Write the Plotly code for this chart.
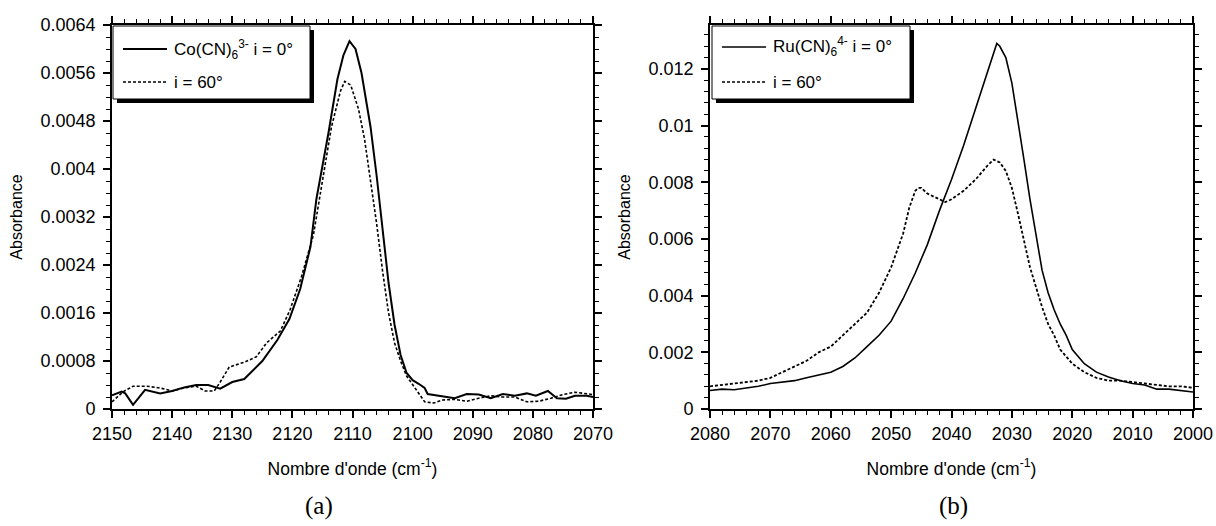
import plotly.graph_objects as go

# ---- Co(CN)6 3- spectra (panel a) ----
co_wn_0 = [2150, 2148.4, 2147.8, 2146.5, 2144.5, 2142, 2140, 2138, 2136, 2134, 2132, 2130,
           2128, 2126, 2125, 2122.5, 2120.5, 2118.7, 2117, 2116, 2114, 2112.5, 2111.5,
           2110.5, 2109.5, 2108.5, 2107, 2106, 2105, 2104, 2103, 2102, 2101, 2100, 2099,
           2098, 2097.5, 2095, 2093, 2091, 2089, 2087, 2085, 2083, 2081, 2079.5, 2077.5,
           2076, 2074.5, 2073, 2071, 2070]
co_abs_0 = [0.00023, 0.00029, 0.00026, 0.00007, 0.00032, 0.00026, 0.0003, 0.00036, 0.0004,
            0.0004, 0.00034, 0.00045, 0.0005, 0.0007, 0.0008, 0.00115, 0.0015, 0.002,
            0.0027, 0.0035, 0.0046, 0.0055, 0.0059, 0.00613, 0.006, 0.0056, 0.0047,
            0.0039, 0.003, 0.0021, 0.0014, 0.0009, 0.0006, 0.00048, 0.00042, 0.00035,
            0.00025, 0.00021, 0.00018, 0.00025, 0.00024, 0.00018, 0.00025, 0.00022,
            0.00026, 0.00022, 0.0003, 0.00018, 0.00017, 0.00022, 0.00022, 0.0002]

co_wn_60 = [2150, 2148.1, 2146.5, 2144.2, 2142, 2140, 2138, 2136, 2134.5, 2133, 2132,
            2130.5, 2128, 2126, 2124.3, 2122, 2120.4, 2118.5, 2116.5, 2115, 2113.5, 2112,
            2111.3, 2110.3, 2109, 2108, 2107, 2106, 2105, 2104, 2103, 2102, 2101, 2100,
            2099, 2098, 2096.5, 2095, 2093, 2091, 2089, 2087, 2085, 2083, 2081, 2079,
            2077, 2075, 2073, 2071, 2070]
co_abs_60 = [0.00012, 0.00029, 0.00038, 0.00038, 0.00035, 0.0003, 0.00035, 0.00038, 0.0003,
             0.0003, 0.00045, 0.0007, 0.00078, 0.00087, 0.0011, 0.0013, 0.00165, 0.0022,
             0.0029, 0.0038, 0.0047, 0.0053, 0.00546, 0.0054, 0.005, 0.0045, 0.0038,
             0.0031, 0.0023, 0.0016, 0.0011, 0.0008, 0.00055, 0.0004, 0.00025, 0.00012,
             0.0001, 0.00015, 0.00016, 0.00013, 0.00018, 0.00022, 0.0002, 0.0002,
             0.00012, 0.00013, 0.00018, 0.00024, 0.00028, 0.00026, 0.00024]

# ---- Ru(CN)6 4- spectra (panel b) ----
ru_wn_0 = [2080, 2078, 2076, 2074, 2072, 2070, 2068, 2066, 2064, 2062, 2060, 2058, 2056,
           2054, 2052, 2050, 2048, 2046, 2044, 2042, 2040, 2038, 2036, 2034, 2033, 2032.5,
           2032, 2031, 2030, 2029, 2028, 2027, 2026, 2025, 2024, 2023, 2022, 2021, 2020,
           2018, 2016, 2014, 2012, 2010, 2008, 2006, 2004, 2002, 2000]
ru_abs_0 = [0.00065, 0.0007, 0.00068, 0.00075, 0.0008, 0.0009, 0.00095, 0.001, 0.0011,
            0.0012, 0.0013, 0.0015, 0.0018, 0.0022, 0.0026, 0.0031, 0.0039, 0.0048,
            0.0058, 0.007, 0.0081, 0.0093, 0.0106, 0.0119, 0.0126, 0.0129, 0.0128,
            0.0124, 0.0115, 0.0102, 0.0088, 0.0074, 0.0062, 0.0049, 0.0041, 0.0035,
            0.003, 0.0026, 0.0021, 0.0016, 0.0013, 0.00113, 0.001, 0.0009, 0.00085,
            0.0007, 0.0007, 0.00065, 0.0006]

ru_wn_60 = [2080, 2078, 2076, 2074, 2072, 2070, 2068, 2066, 2064, 2062, 2060, 2058, 2056,
            2054, 2052, 2050, 2048, 2047, 2046, 2045.5, 2045, 2044, 2042, 2041, 2040, 2038,
            2036, 2034, 2033, 2032, 2031, 2030, 2029, 2028, 2027, 2026, 2025, 2024, 2023,
            2022, 2020, 2018, 2016, 2014, 2012, 2010, 2008, 2006, 2004, 2002, 2000]
ru_abs_60 = [0.0008, 0.00085, 0.0009, 0.00095, 0.001, 0.0011, 0.0013, 0.0015, 0.0017,
             0.002, 0.0022, 0.0026, 0.003, 0.0034, 0.0041, 0.005, 0.0062, 0.0071, 0.0077,
             0.0078, 0.0078, 0.0076, 0.0074, 0.0073, 0.0074, 0.0077, 0.0081, 0.0086,
             0.0088, 0.0087, 0.0084, 0.0078, 0.0069, 0.0059, 0.005, 0.0043, 0.0036,
             0.003, 0.0026, 0.0021, 0.0016, 0.0013, 0.0011, 0.001, 0.001, 0.00095,
             0.0009, 0.00085, 0.0008, 0.0008, 0.00075]

# ---- axis ticks ----
co_xticks = [2150, 2140, 2130, 2120, 2110, 2100, 2090, 2080, 2070]
co_yticks = [0, 0.0008, 0.0016, 0.0024, 0.0032, 0.004, 0.0048, 0.0056, 0.0064]
co_ylabels = ["0", "0.0008", "0.0016", "0.0024", "0.0032", "0.004", "0.0048", "0.0056", "0.0064"]
ru_xticks = [2080, 2070, 2060, 2050, 2040, 2030, 2020, 2010, 2000]
ru_yticks = [0, 0.002, 0.004, 0.006, 0.008, 0.01, 0.012]
ru_ylabels = ["0", "0.002", "0.004", "0.006", "0.008", "0.01", "0.012"]

legend_co = ["Co(CN)<sub>6</sub><sup>3-</sup> i = 0°", "i = 60°"]
legend_ru = ["Ru(CN)<sub>6</sub><sup>4-</sup> i = 0°", "i = 60°"]
panel_labels = ["(a)", "(b)"]

SANS = "Liberation Sans, Arial, sans-serif"
SERIF = "Liberation Serif, Times New Roman, serif"
DOTS = "3px,2px"

fig = go.Figure()
fig.add_trace(go.Scatter(x=co_wn_0, y=co_abs_0, mode="lines", xaxis="x", yaxis="y",
                         line=dict(color="black", width=2), name=legend_co[0]))
fig.add_trace(go.Scatter(x=co_wn_60, y=co_abs_60, mode="lines", xaxis="x", yaxis="y",
                         line=dict(color="black", width=1.6, dash=DOTS), name=legend_co[1]))
fig.add_trace(go.Scatter(x=ru_wn_0, y=ru_abs_0, mode="lines", xaxis="x2", yaxis="y2",
                         line=dict(color="black", width=1.6), name=legend_ru[0]))
fig.add_trace(go.Scatter(x=ru_wn_60, y=ru_abs_60, mode="lines", xaxis="x2", yaxis="y2",
                         line=dict(color="black", width=1.8, dash=DOTS), name=legend_ru[1]))

W, H = 1216, 526
# plot frames in pixels: (left, right, top, bottom)
frame_a = (112, 593, 25, 409)
frame_b = (710, 1193, 25, 409)
ML, MR, MT, MB = frame_a[0], W - frame_b[1], frame_a[2], H - frame_a[3]
PW, PH = W - ML - MR, H - MT - MB


def xdom(fr):
    return [(fr[0] - ML) / PW, (fr[1] - ML) / PW]


axis_common = dict(showline=True, linecolor="black", linewidth=1.8, mirror="ticks",
                   ticks="outside", ticklen=7, tickwidth=1.5, tickcolor="black",
                   showgrid=False, zeroline=False, automargin=False,
                   tickfont=dict(family=SANS, size=18, color="black"))
minor_common = dict(ticklen=4, tickwidth=1.1, ticks="outside", tickcolor="black")

xtitle = dict(text="Nombre d'onde (cm<sup>-1</sup>)",
              font=dict(family=SANS, size=17.5, color="black"), standoff=20)
ytitle = dict(text="Absorbance", font=dict(family=SANS, size=16, color="black"), standoff=14)

fig.update_layout(
    width=W, height=H, margin=dict(l=ML, r=MR, t=MT, b=MB, autoexpand=False),
    paper_bgcolor="white", plot_bgcolor="white", showlegend=False,
    xaxis=dict(domain=xdom(frame_a), range=[2150, 2070], tickvals=co_xticks, anchor="y",
               minor=dict(dtick=2, **minor_common), title=xtitle, **axis_common),
    yaxis=dict(domain=[0, 1], range=[0, 0.0064], tickvals=co_yticks, ticktext=co_ylabels,
               anchor="x", ticklabelstandoff=4,
               minor=dict(dtick=0.0002, **minor_common), title=ytitle, **axis_common),
    xaxis2=dict(domain=xdom(frame_b), range=[2080, 2000], tickvals=ru_xticks, anchor="y2",
                minor=dict(dtick=2, **minor_common), title=xtitle, **axis_common),
    yaxis2=dict(domain=[0, 1], range=[0, 0.01355], tickvals=ru_yticks, ticktext=ru_ylabels,
                anchor="x2", ticklabelstandoff=4,
                minor=dict(dtick=0.0004, **minor_common), title=ytitle, **axis_common),
)


def px_x(fr, px):
    return (px - fr[0]) / (fr[1] - fr[0])


def px_y(fr, py):
    return (fr[3] - py) / (fr[3] - fr[2])


def add_legend_box(fr, xref, yref, box, rows, sample_widths):
    """Legend drawn as a framed box with a drop shadow inside the plot frame."""
    bl, br, bt, bb = box
    sh = 4
    fig.add_shape(type="rect", xref=xref, yref=yref, layer="above",
                  x0=px_x(fr, bl + sh), x1=px_x(fr, br + sh),
                  y0=px_y(fr, bb + sh), y1=px_y(fr, bt + sh),
                  fillcolor="black", line=dict(width=0))
    fig.add_shape(type="rect", xref=xref, yref=yref, layer="above",
                  x0=px_x(fr, bl), x1=px_x(fr, br), y0=px_y(fr, bb), y1=px_y(fr, bt),
                  fillcolor="white", line=dict(color="black", width=1))
    for (text, ypix, dash), w in zip(rows, sample_widths):
        fig.add_shape(type="line", xref=xref, yref=yref, layer="above",
                      x0=px_x(fr, bl + 10), x1=px_x(fr, bl + 54),
                      y0=px_y(fr, ypix), y1=px_y(fr, ypix),
                      line=dict(color="black", width=w, dash=dash))
        fig.add_annotation(xref=xref, yref=yref, x=px_x(fr, bl + 59), y=px_y(fr, ypix),
                           text=text, showarrow=False, xanchor="left", yanchor="middle",
                           font=dict(family=SANS, size=17, color="black"))


add_legend_box(frame_a, "x domain", "y domain", (113, 310, 26, 99),
               [(legend_co[0], 49, "solid"), (legend_co[1], 82, DOTS)], [2, 1.4])
add_legend_box(frame_b, "x2 domain", "y2 domain", (712, 910, 26, 99),
               [(legend_ru[0], 47, "solid"), (legend_ru[1], 82, DOTS)], [1.4, 1.6])

for label, cx in zip(panel_labels, [319, 953]):
    fig.add_annotation(xref="paper", yref="paper", x=(cx - ML) / PW, y=(H - MB - 506) / PH,
                       text=label, showarrow=False, xanchor="center", yanchor="middle",
                       font=dict(family=SERIF, size=25, color="black"))

fig.write_html("out.html")
